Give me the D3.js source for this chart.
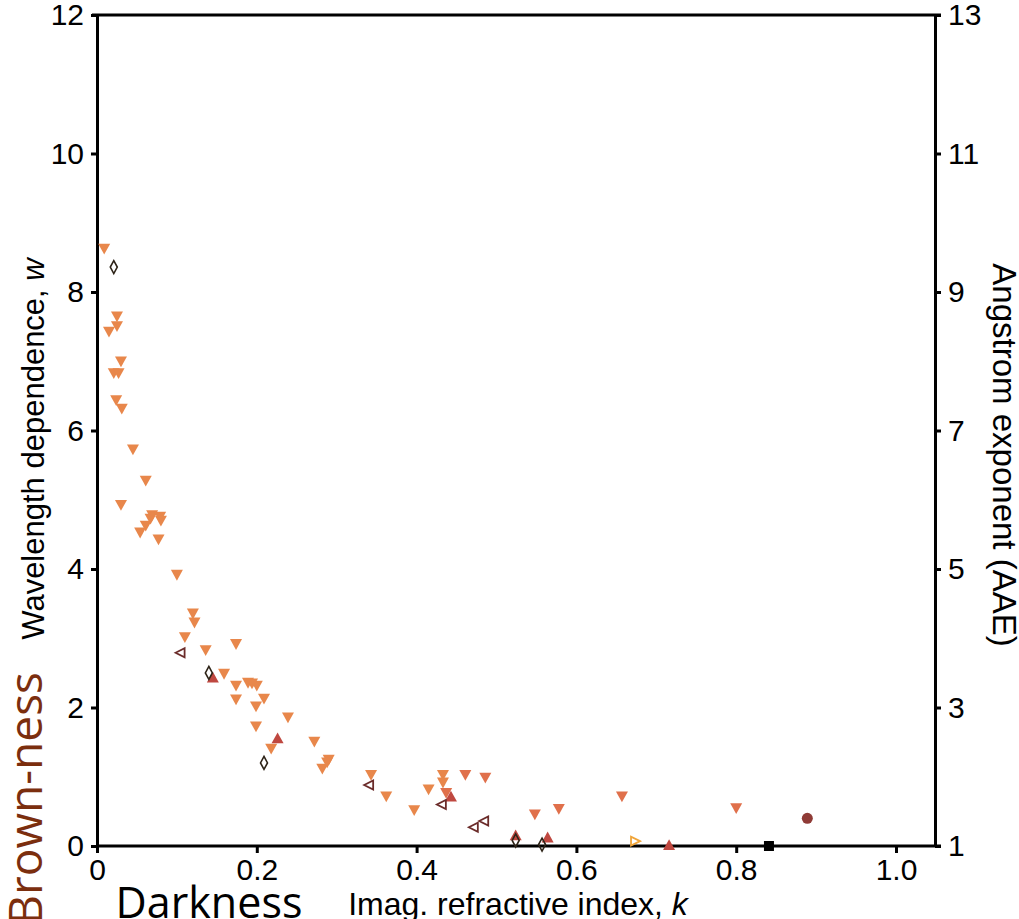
<!DOCTYPE html>
<html>
<head>
<meta charset="utf-8">
<script src="https://cdn.jsdelivr.net/npm/d3@7"></script>
<style>
  body { margin: 0; background: #fff; }
  svg text { font-family: "Liberation Sans", Arial, sans-serif; }
</style>
</head>
<body>
<script>
// data: imag. refractive index k vs wavelength dependence w
var kOrange = [0.009, 0.025, 0.025, 0.015, 0.030, 0.021, 0.027, 0.024, 0.031, 0.045,
  0.061, 0.030, 0.069, 0.067, 0.079, 0.080, 0.061, 0.054, 0.077, 0.100,
  0.120, 0.122, 0.110, 0.136, 0.174, 0.159, 0.174, 0.189, 0.194, 0.200,
  0.174, 0.209, 0.199, 0.239, 0.199, 0.218, 0.272, 0.290, 0.288, 0.282,
  0.343, 0.362, 0.397, 0.415, 0.433, 0.433];
var wOrange = [8.62, 7.64, 7.50, 7.42, 6.99, 6.82, 6.82, 6.43, 6.31, 5.72,
  5.27, 4.92, 4.77, 4.72, 4.75, 4.69, 4.62, 4.52, 4.42, 3.91,
  3.35, 3.22, 3.01, 2.82, 2.91, 2.48, 2.31, 2.35, 2.34, 2.31,
  2.11, 2.12, 2.01, 1.85, 1.72, 1.40, 1.50, 1.24, 1.20, 1.11,
  1.02, 0.71, 0.51, 0.81, 1.02, 0.91];
var kRedOrange = [0.437, 0.461, 0.486, 0.548, 0.578, 0.657, 0.800];
var wRedOrange = [0.76, 1.02, 0.98, 0.45, 0.53, 0.71, 0.54];
var kUp = [0.145, 0.226, 0.443, 0.524, 0.564, 0.716];
var wUp = [2.44, 1.56, 0.72, 0.16, 0.13, 0.02];
var kDiamond = [0.021, 0.140, 0.209, 0.524, 0.557];
var wDiamond = [8.36, 2.50, 1.20, 0.08, 0.02];
var kLeft = [0.104, 0.340, 0.431, 0.471, 0.484];
var wLeft = [2.79, 0.88, 0.60, 0.27, 0.36];
var kRight = [0.674], wRight = [0.07];
var kSquare = [0.841], wSquare = [0.0];
var kCircle = [0.889], wCircle = [0.40];

var xTicks = [0, 0.2, 0.4, 0.6, 0.8, 1.0];
var xTickLabels = ["0", "0.2", "0.4", "0.6", "0.8", "1.0"];
var yTicks = [0, 2, 4, 6, 8, 10, 12];
var aaeTicks = [1, 3, 5, 7, 9, 11, 13];

var width = 1019, height = 919;
var svg = d3.select("body").append("svg")
  .attr("width", width)
  .attr("height", height);

var x = d3.scaleLinear().domain([0, 1]).range([97, 896]);
var y = d3.scaleLinear().domain([0, 12]).range([846, 15]);
var yAAE = d3.scaleLinear().domain([1, 13]).range([846, 15]);
var xRight = x.invert(935);

// axes
var gAxes = svg.append("g");
var bottom = gAxes.append("g").attr("transform", "translate(0," + y(0) + ")")
  .call(d3.axisBottom(x).tickValues(xTicks).tickFormat((d, i) => xTickLabels[i]).tickSize(7).tickSizeOuter(0).tickPadding(6));
var left = gAxes.append("g").attr("transform", "translate(" + x(0) + ",0)")
  .call(d3.axisLeft(y).tickValues(yTicks).tickFormat(d3.format("d")).tickSize(6).tickSizeOuter(0).tickPadding(7));
var right = gAxes.append("g").attr("transform", "translate(" + x(xRight) + ",0)")
  .call(d3.axisRight(yAAE).tickValues(aaeTicks).tickFormat(d3.format("d")).tickSize(6).tickSizeOuter(0).tickPadding(7));
gAxes.selectAll(".domain").attr("stroke", "#000").attr("stroke-width", 3);
gAxes.selectAll(".tick line").attr("stroke", "#000").attr("stroke-width", 3);
gAxes.selectAll(".tick text").attr("font-family", "Liberation Sans, Arial, sans-serif")
  .attr("font-size", 30).attr("fill", "#000");
bottom.select(".domain").attr("d", "M" + x(0) + ",0H" + (x(xRight) + 6));
gAxes.append("line")
  .attr("x1", x(0) - 5).attr("x2", x(xRight) + 6)
  .attr("y1", y(12)).attr("y2", y(12))
  .attr("stroke", "#000").attr("stroke-width", 3);

// marker shapes
function downTri(s) { return "M" + (-s / 2) + "," + (-s * 0.45) + "L" + (s / 2) + "," + (-s * 0.45) + "L0," + (s * 0.45) + "Z"; }
function upTri(s) { return "M" + (-s / 2) + "," + (s * 0.45) + "L" + (s / 2) + "," + (s * 0.45) + "L0," + (-s * 0.45) + "Z"; }
function leftTri(s) { return "M" + (-s / 2) + ",0L" + (s / 2) + "," + (-s / 2) + "L" + (s / 2) + "," + (s / 2) + "Z"; }
function rightTri(s) { return "M" + (s / 2) + ",0L" + (-s / 2) + "," + (-s / 2) + "L" + (-s / 2) + "," + (s / 2) + "Z"; }
function diamond(w, h) { return "M0," + (-h / 2) + "L" + (w / 2) + ",0L0," + (h / 2) + "L" + (-w / 2) + ",0Z"; }

function plot(ks, ws, path, fill, stroke, sw) {
  svg.append("g").selectAll("path")
    .data(ks.map((k, i) => [k, ws[i]]))
    .join("path")
    .attr("transform", d => "translate(" + x(d[0]) + "," + y(d[1]) + ")")
    .attr("d", path)
    .attr("fill", fill)
    .attr("stroke", stroke)
    .attr("stroke-width", sw);
}

plot(kOrange, wOrange, downTri(12), "#E8874B", "none", 0);
plot(kRedOrange, wRedOrange, downTri(12), "#E0704B", "none", 0);
plot(kUp, wUp, upTri(12), "#BF4840", "none", 0);
plot(kDiamond, wDiamond, diamond(7, 13), "none", "#2E2418", 1.6);
plot(kLeft, wLeft, leftTri(9), "none", "#6B2C2A", 1.8);
plot(kRight, wRight, rightTri(9), "none", "#F0A53A", 1.8);
plot(kSquare, wSquare, "M-5,-5H5V5H-5Z", "#000", "none", 0);
svg.append("g").selectAll("circle")
  .data(kCircle.map((k, i) => [k, wCircle[i]]))
  .join("circle")
  .attr("cx", d => x(d[0])).attr("cy", d => y(d[1])).attr("r", 5.5)
  .attr("fill", "#8F3B36");

// titles
svg.append("text")
  .attr("transform", "translate(44,449) rotate(-90)")
  .attr("text-anchor", "middle").attr("font-size", 31)
  .html('Wavelength dependence, <tspan font-style="italic">w</tspan>');
svg.append("text")
  .attr("transform", "translate(993,455) rotate(90)")
  .attr("text-anchor", "middle").attr("font-size", 33)
  .text("Angstrom exponent (AAE)");
svg.append("text")
  .attr("x", 518).attr("y", 915)
  .attr("text-anchor", "middle").attr("font-size", 32)
  .html('Imag. refractive index, <tspan font-style="italic">k</tspan>');
svg.append("text")
  .attr("x", 209).attr("y", 918)
  .attr("text-anchor", "middle").attr("font-size", 43)
  .style("font-family", "'Open Sans', sans-serif")
  .text("Darkness");
svg.append("text")
  .attr("transform", "translate(42,672) rotate(-90)")
  .attr("text-anchor", "end").attr("font-size", 46)
  .attr("fill", "#7B2E0E")
  .style("font-family", "'Open Sans', sans-serif")
  .text("Brown-ness");
</script>
</body>
</html>
